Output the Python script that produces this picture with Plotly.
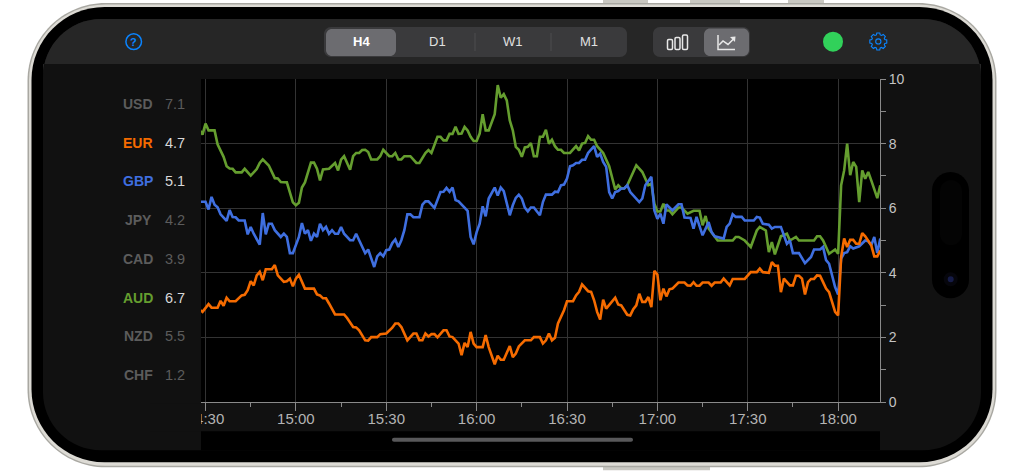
import math

import plotly.graph_objects as go

# minutes after 14:30, strength value
aud = [(-2, 8.43), (-1, 8.28), (0, 8.62), (1, 8.41), (3, 8.41), (4, 7.98), (6, 7.59), (7, 7.30), (8, 7.23), (9, 7.22),
       (10, 7.11), (12, 7.11), (13, 7.22), (15, 7.01), (17, 7.21), (18, 7.40), (19, 7.51), (21, 7.32), (23, 6.93),
       (24, 6.92), (25, 6.81), (27, 6.80), (29, 6.18), (30, 6.09), (31, 6.17), (32, 6.64), (33, 6.80), (35, 7.41),
       (36, 7.41), (37, 7.22), (38, 6.86), (39, 7.20), (41, 7.22), (43, 7.40), (44, 7.17), (45, 7.50), (46, 7.61),
       (48, 7.19), (49, 7.61), (50, 7.71), (51, 7.71), (52, 7.80), (53, 7.81), (54, 7.74), (55, 7.51), (57, 7.51),
       (58, 7.61), (59, 7.81), (61, 7.61), (62, 7.61), (63, 7.71), (64, 7.51), (65, 7.51), (66, 7.61), (68, 7.61),
       (70, 7.40), (71, 7.40), (73, 7.71), (74, 7.80), (75, 7.71), (77, 8.21), (78, 8.21), (79, 8.10), (80, 8.10),
       (81, 8.30), (82, 8.30), (83, 8.52), (84, 8.30), (85, 8.31), (86, 8.52), (87, 8.41), (88, 8.21), (89, 8.08),
       (90, 8.08), (91, 8.31), (92, 8.91), (93, 8.41), (94, 8.41), (96, 8.91), (97, 9.81), (98, 9.42), (99, 9.53),
       (100, 9.34), (101, 8.72), (102, 8.41), (103, 7.90), (104, 7.81), (105, 7.59), (106, 7.88), (107, 7.90),
       (108, 8.02), (109, 7.61), (110, 7.61), (111, 8.21), (112, 8.21), (113, 8.43), (114, 8.00), (115, 8.12),
       (116, 7.92), (117, 7.81), (118, 7.81), (119, 7.71), (121, 7.71), (123, 7.92), (124, 7.79), (125, 8.00),
       (126, 8.02), (127, 8.23), (128, 8.12), (129, 8.12), (130, 7.92), (132, 7.71), (134, 7.30), (136, 6.58),
       (137, 6.71), (138, 6.61), (139, 6.61), (140, 6.71), (143, 7.33), (145, 7.12), (147, 6.71), (148, 6.76),
       (149, 6.14), (150, 5.90), (151, 5.90), (152, 6.14), (153, 5.93), (154, 5.93), (155, 5.81), (157, 6.02),
       (158, 6.02), (160, 5.83), (162, 5.92), (164, 5.92), (165, 5.47), (166, 5.76), (167, 5.37), (169, 5.11),
       (170, 5.00), (175, 5.00), (176, 5.11), (177, 5.11), (179, 5.00), (181, 4.80), (183, 5.31), (184, 5.42),
       (186, 5.31), (187, 4.64), (188, 4.95), (189, 4.57), (191, 5.13), (193, 5.21), (194, 5.00), (196, 5.11),
       (197, 5.00), (202, 5.00), (203, 5.13), (204, 5.13), (205, 5.00), (206, 4.80), (207, 4.59), (209, 4.72),
       (210, 4.59), (211, 6.71), (212, 7.17), (213, 8.00), (214, 7.02), (215, 7.43), (216, 7.28), (217, 6.19),
       (218, 7.17), (219, 6.91), (220, 7.12), (221, 6.86), (222, 6.55), (223, 6.31), (224, 6.71)]

gbp = [(-2, 6.20), (0, 6.20), (1, 5.96), (2, 6.35), (3, 6.11), (4, 6.03), (5, 5.81), (7, 5.61), (8, 5.94), (9, 5.73),
       (10, 5.72), (11, 5.62), (13, 5.62), (14, 5.19), (15, 5.42), (16, 5.21), (18, 4.87), (19, 5.85), (20, 5.19),
       (21, 5.52), (22, 5.52), (23, 5.32), (25, 5.11), (26, 5.21), (27, 5.11), (28, 4.61), (29, 4.61), (31, 5.11),
       (32, 5.54), (33, 5.21), (34, 5.32), (35, 4.99), (36, 5.21), (37, 5.11), (38, 5.52), (39, 5.32), (40, 5.42),
       (41, 5.21), (42, 5.32), (43, 5.21), (44, 5.21), (45, 5.42), (46, 5.21), (48, 5.01), (49, 5.01), (50, 5.21),
       (51, 5.01), (53, 4.61), (54, 4.72), (56, 4.18), (57, 4.51), (58, 4.61), (59, 4.51), (60, 4.70), (61, 4.72),
       (62, 4.92), (63, 5.03), (64, 4.80), (65, 5.01), (66, 5.32), (67, 5.81), (68, 5.81), (69, 5.72), (71, 5.72),
       (72, 6.11), (73, 6.21), (74, 6.21), (76, 6.01), (78, 6.50), (79, 6.51), (80, 6.63), (81, 6.51), (82, 6.64),
       (83, 6.25), (84, 6.21), (86, 6.02), (87, 5.92), (88, 5.11), (89, 4.88), (90, 5.26), (91, 5.52), (92, 6.06),
       (93, 5.75), (94, 6.30), (96, 6.64), (97, 6.39), (98, 6.64), (99, 6.53), (101, 5.78), (102, 6.09), (103, 6.32),
       (104, 6.42), (105, 6.30), (106, 6.02), (107, 5.90), (108, 6.02), (109, 6.02), (111, 5.78), (112, 6.19),
       (113, 6.42), (115, 6.42), (116, 6.51), (117, 6.50), (118, 6.71), (119, 6.73), (120, 6.92), (121, 7.30),
       (122, 7.33), (123, 7.40), (124, 7.40), (125, 7.50), (126, 7.50), (127, 7.71), (129, 7.92), (130, 7.59),
       (131, 7.69), (132, 7.43), (133, 7.28), (134, 6.50), (135, 6.30), (136, 6.50), (137, 6.53), (138, 6.61),
       (139, 6.61), (140, 6.71), (141, 6.50), (144, 6.19), (145, 6.30), (146, 6.71), (148, 6.97), (149, 5.93),
       (150, 5.67), (151, 5.83), (152, 5.52), (153, 6.12), (155, 5.93), (157, 6.12), (158, 6.12), (159, 5.71),
       (161, 5.70), (162, 5.37), (163, 5.73), (165, 5.16), (167, 5.57), (168, 5.26), (169, 5.13), (172, 5.06),
       (173, 5.42), (174, 5.52), (175, 5.81), (176, 5.73), (178, 5.73), (179, 5.62), (182, 5.62), (183, 5.73),
       (184, 5.71), (185, 5.52), (187, 5.49), (188, 5.37), (189, 5.42), (191, 5.42), (193, 4.90), (194, 5.00),
       (195, 4.61), (197, 4.61), (199, 4.30), (201, 4.49), (202, 4.72), (204, 4.72), (205, 4.80), (206, 4.39),
       (207, 4.28), (209, 3.56), (210, 3.33), (211, 4.44), (212, 4.61), (213, 4.64), (214, 4.82), (215, 4.75),
       (217, 4.82), (219, 5.00), (220, 4.98), (221, 4.85), (222, 5.11), (223, 4.61), (224, 5.06)]

eur = [(-2, 2.86), (-1, 2.79), (1, 3.03), (2, 2.92), (4, 2.92), (5, 3.13), (6, 2.98), (7, 3.23), (8, 3.12), (10, 3.12),
       (12, 3.30), (13, 3.32), (14, 3.46), (15, 3.74), (16, 3.61), (17, 3.92), (18, 4.03), (19, 3.77), (20, 4.11),
       (22, 4.11), (23, 4.24), (24, 3.92), (26, 3.72), (27, 3.74), (28, 3.82), (29, 3.58), (30, 3.82), (31, 3.94),
       (33, 3.51), (36, 3.51), (37, 3.33), (38, 3.30), (39, 3.21), (40, 3.21), (41, 3.05), (43, 2.71), (46, 2.71),
       (47, 2.60), (49, 2.32), (50, 2.31), (51, 2.22), (53, 1.91), (54, 1.90), (55, 2.01), (57, 2.01), (58, 2.10),
       (60, 2.12), (62, 2.30), (63, 2.43), (64, 2.43), (65, 2.32), (67, 1.91), (69, 2.12), (70, 2.12), (71, 1.91),
       (72, 1.91), (73, 2.12), (74, 2.03), (75, 2.10), (76, 2.10), (77, 2.00), (79, 2.22), (80, 2.22), (81, 2.03),
       (82, 2.01), (84, 1.81), (85, 1.45), (86, 1.83), (87, 1.70), (88, 2.17), (89, 1.81), (90, 1.70), (92, 1.70),
       (93, 2.07), (94, 1.70), (96, 1.17), (97, 1.43), (98, 1.31), (99, 1.31), (101, 1.73), (102, 1.39), (103, 1.50),
       (104, 1.72), (106, 1.91), (108, 1.91), (109, 2.01), (111, 2.01), (112, 1.81), (113, 1.91), (114, 2.12),
       (115, 1.91), (116, 1.99), (117, 2.43), (118, 2.63), (119, 2.84), (120, 3.12), (122, 3.12), (123, 3.30),
       (124, 3.41), (125, 3.64), (127, 3.43), (128, 3.41), (129, 3.15), (130, 2.79), (131, 2.55), (132, 3.17),
       (133, 2.89), (136, 3.23), (137, 3.02), (138, 2.99), (140, 2.70), (141, 2.68), (142, 2.87), (143, 2.99),
       (144, 3.35), (145, 3.10), (146, 3.10), (147, 3.25), (148, 2.94), (149, 4.06), (150, 3.95), (151, 3.15),
       (152, 3.51), (153, 3.27), (154, 3.49), (155, 3.51), (157, 3.70), (159, 3.70), (160, 3.61), (161, 3.60),
       (162, 3.71), (163, 3.60), (164, 3.60), (165, 3.70), (167, 3.70), (168, 3.60), (169, 3.70), (171, 3.70),
       (172, 3.82), (174, 3.61), (175, 3.81), (179, 3.81), (181, 4.02), (183, 4.02), (184, 4.13), (185, 4.02),
       (187, 4.00), (188, 4.33), (189, 4.22), (190, 4.22), (191, 3.40), (192, 3.82), (194, 3.61), (195, 3.61),
       (196, 3.91), (197, 3.91), (198, 3.82), (199, 3.33), (200, 3.71), (201, 3.81), (202, 3.81), (203, 3.92),
       (204, 3.91), (205, 3.71), (206, 3.51), (207, 3.40), (209, 2.79), (210, 2.68), (211, 4.49), (212, 5.06),
       (213, 4.80), (214, 5.02), (215, 5.02), (216, 4.90), (217, 4.90), (218, 5.23), (219, 5.13), (221, 4.85),
       (222, 4.51), (223, 4.51), (224, 4.69)]

currencies = ["USD", "EUR", "GBP", "JPY", "CAD", "AUD", "NZD", "CHF"]
strengths = [7.1, 4.7, 5.1, 4.2, 3.9, 6.7, 5.5, 1.2]
periods = ["H4", "D1", "W1", "M1"]
time_ticks = [0, 30, 60, 90, 120, 150, 180, 210]
time_labels = ["14:30", "15:00", "15:30", "16:00", "16:30", "17:00", "17:30", "18:00"]

ORANGE = "#f56b00"
BLUE = "#3f6fe0"
GREEN = "#659e2f"
LINK = "#0a84ff"
series_colors = {"EUR": ORANGE, "GBP": BLUE, "AUD": GREEN}


# pixel position on the page -> paper coordinates
def fx(px):
    return (px - 201) / 679


def fy(py):
    return (401.7 - py) / 322.7


def pt(x, y):
    return f"{fx(x):.5f} {fy(y):.5f}"


def rounded(x0, y0, x1, y1, r):
    k = r * 0.4477
    return (f"M {pt(x0 + r, y0)} L {pt(x1 - r, y0)} C {pt(x1 - k, y0)} {pt(x1, y0 + k)} {pt(x1, y0 + r)} "
            f"L {pt(x1, y1 - r)} C {pt(x1, y1 - k)} {pt(x1 - k, y1)} {pt(x1 - r, y1)} "
            f"L {pt(x0 + r, y1)} C {pt(x0 + k, y1)} {pt(x0, y1 - k)} {pt(x0, y1 - r)} "
            f"L {pt(x0, y0 + r)} C {pt(x0, y0 + k)} {pt(x0 + k, y0)} {pt(x0 + r, y0)} Z")


def top_rounded(x0, y0, x1, y1, r):
    k = r * 0.4477
    return (f"M {pt(x0 + r, y0)} L {pt(x1 - r, y0)} C {pt(x1 - k, y0)} {pt(x1, y0 + k)} {pt(x1, y0 + r)} "
            f"L {pt(x1, y1)} L {pt(x0, y1)} L {pt(x0, y0 + r)} C {pt(x0, y0 + k)} {pt(x0 + k, y0)} {pt(x0 + r, y0)} Z")


def fill_path(path, color, layer="below"):
    return dict(type="path", xref="paper", yref="paper", path=path, fillcolor=color,
                line=dict(width=0), layer=layer)


def stroke_path(path, color, width=1.5, layer="below"):
    return dict(type="path", xref="paper", yref="paper", path=path, fillcolor="rgba(0,0,0,0)",
                line=dict(color=color, width=width), layer=layer)


def rect(x0, y0, x1, y1, color, layer="below"):
    return dict(type="rect", xref="paper", yref="paper", x0=fx(x0), x1=fx(x1), y0=fy(y1), y1=fy(y0),
                fillcolor=color, line=dict(width=0), layer=layer)


def circle(cx, cy, r, fill, line_color=None, width=0):
    return dict(type="circle", xref="paper", yref="paper", x0=fx(cx - r), x1=fx(cx + r), y0=fy(cy + r),
                y1=fy(cy - r), fillcolor=fill, line=dict(color=line_color or fill, width=width), layer="below")


def label(x, y, text, color, size=14, bold=False):
    return dict(xref="paper", yref="paper", x=fx(x), y=fy(y), text=f"<b>{text}</b>" if bold else text,
                showarrow=False, xanchor="center", yanchor="middle",
                font=dict(family="Liberation Sans", size=size, color=color))


# settings icon outline
def gear(cx, cy, r_out, r_in, teeth=8):
    pts = []
    for i in range(teeth):
        a = 2 * math.pi * i / teeth
        step = 2 * math.pi / teeth
        for off, r in [(-0.22, r_out), (0.22, r_out), (0.36, r_in), (0.64, r_in)]:
            pts.append((cx + r * math.cos(a + off * step), cy + r * math.sin(a + off * step)))
    return "M " + " L ".join(pt(x, y) for x, y in pts) + " Z"


shapes = [
    # side buttons
    rect(603, 0, 648, 4, "#c9c8c2"), rect(690, 0, 740, 4, "#c9c8c2"), rect(788, 0, 824, 4, "#c9c8c2"),
    rect(603, 465, 710, 470, "#c9c8c2"),
    # body of the phone
    fill_path(rounded(27.5, 3, 996.5, 467, 78), "#a9a8a2"),
    fill_path(rounded(29, 4.5, 995, 465.5, 76), "#dddbd5"),
    fill_path(rounded(31.5, 7, 992.5, 462, 73), "#000000"),
    fill_path(rounded(43, 19, 981, 450, 58), "#111111"),
    fill_path(top_rounded(43, 19, 981, 64, 58), "#262626"),
    # plot area
    rect(201, 79, 880, 402, "#000000"),
    rect(201, 431, 880, 450, "#000000"),
    # segmented controls
    fill_path(rounded(324, 27, 627, 57, 7), "#3a3a3c"),
    fill_path(rounded(326, 29, 396, 56, 6), "#6c6c70"),
    rect(474.5, 33, 475.5, 51, "#4c4c4e"), rect(550.5, 33, 551.5, 51, "#4c4c4e"),
    fill_path(rounded(653, 27, 750, 57, 7), "#3a3a3c"),
    fill_path(rounded(704, 28.5, 749, 56, 6), "#6c6c70"),
    stroke_path(rounded(667.5, 39.5, 672.5, 49.5, 1.2), "#e8e8e8"),
    stroke_path(rounded(675, 37.5, 680, 49.5, 1.2), "#e8e8e8"),
    stroke_path(rounded(682.5, 35, 687.5, 49.5, 1.2), "#e8e8e8"),
    stroke_path(f"M {pt(718, 35)} L {pt(718, 49.5)} L {pt(735, 49.5)}", "#e8e8e8"),
    stroke_path(f"M {pt(719, 45)} L {pt(723, 41)} L {pt(728, 44.5)} L {pt(734, 38.5)}", "#e8e8e8"),
    fill_path(f"M {pt(730, 37)} L {pt(735.5, 36.5)} L {pt(735, 42)} Z", "#e8e8e8"),
    # status and buttons
    circle(833, 41.7, 10, "#31d15a"),
    circle(133.7, 41.7, 7.8, "rgba(0,0,0,0)", LINK, 1.5),
    stroke_path(gear(878.3, 41.5, 8.6, 6.8), LINK, 1.1),
    circle(878.3, 41.5, 2.6, "rgba(0,0,0,0)", LINK, 1.1),
    # camera cut-out
    fill_path(rounded(932, 172, 969, 298, 18.5), "#000000"),
    fill_path(rounded(940, 180, 962, 245, 11), "#040404"),
    circle(950.7, 279, 7, "#06060c"),
    circle(950.7, 279, 3, "#161c48"),
    # home bar
    fill_path(rounded(392, 437.5, 633, 441.5, 2), "#58585a"),
    # the first time label is cut at the panel edge
    rect(150, 403, 201, 431, "#111111", layer="above"),
]

annotations = [label(133.7, 41.7, "?", LINK, 11, True)]
for p, x in zip(periods, [361, 437, 513, 589]):
    annotations.append(label(x, 42, p, "#ffffff" if p == "H4" else "#e0e0e0", 13, p == "H4"))

for i, (c, v) in enumerate(zip(currencies, strengths)):
    y = 104 + i * 38.7
    active = c in series_colors
    annotations.append(label(138, y, c, series_colors.get(c, "#5c5c5c"), 14, True))
    annotations.append(label(175, y, f"{v:.1f}", "#d8d8d8" if active else "#5c5c5c", 14.5))

fig = go.Figure()
for name, points, color in [("AUD", aud, GREEN), ("GBP", gbp, BLUE), ("EUR", eur, ORANGE)]:
    t, v = zip(*points)
    fig.add_trace(go.Scatter(x=t, y=v, mode="lines", name=name, line=dict(color=color, width=2.6)))

fig.update_layout(
    width=1024,
    height=472,
    margin=dict(l=201, r=144, t=79, b=70.3, autoexpand=False),
    paper_bgcolor="#ffffff",
    plot_bgcolor="rgba(0,0,0,0)",
    showlegend=False,
    shapes=shapes,
    annotations=annotations,
    font=dict(family="Liberation Sans", size=14, color="#b4b4b4"),
)
fig.update_xaxes(
    range=[-1.5, 223.9],
    tickmode="array",
    tickvals=time_ticks,
    ticktext=time_labels,
    ticks="outside",
    ticklen=8,
    tickcolor="#8a8a8a",
    tickfont=dict(size=15),
    ticklabelstandoff=-5,
    showline=True,
    linecolor="#8a8a8a",
    gridcolor="#333333",
    zeroline=False,
    minor=dict(tick0=0, dtick=15, ticks="outside", ticklen=4, tickcolor="#8a8a8a", showgrid=False),
)
fig.update_yaxes(
    side="right",
    range=[0, 10],
    dtick=2,
    ticks="outside",
    ticklen=5,
    tickcolor="#8a8a8a",
    showline=True,
    linecolor="#8a8a8a",
    gridcolor="#333333",
    zeroline=False,
    tickfont=dict(color="#c4c4c4"),
    minor=dict(dtick=1, ticks="outside", ticklen=5, tickcolor="#8a8a8a", showgrid=False),
)
fig.write_html("out.html", config={"displayModeBar": False}, post_script="document.body.style.margin='0';")
